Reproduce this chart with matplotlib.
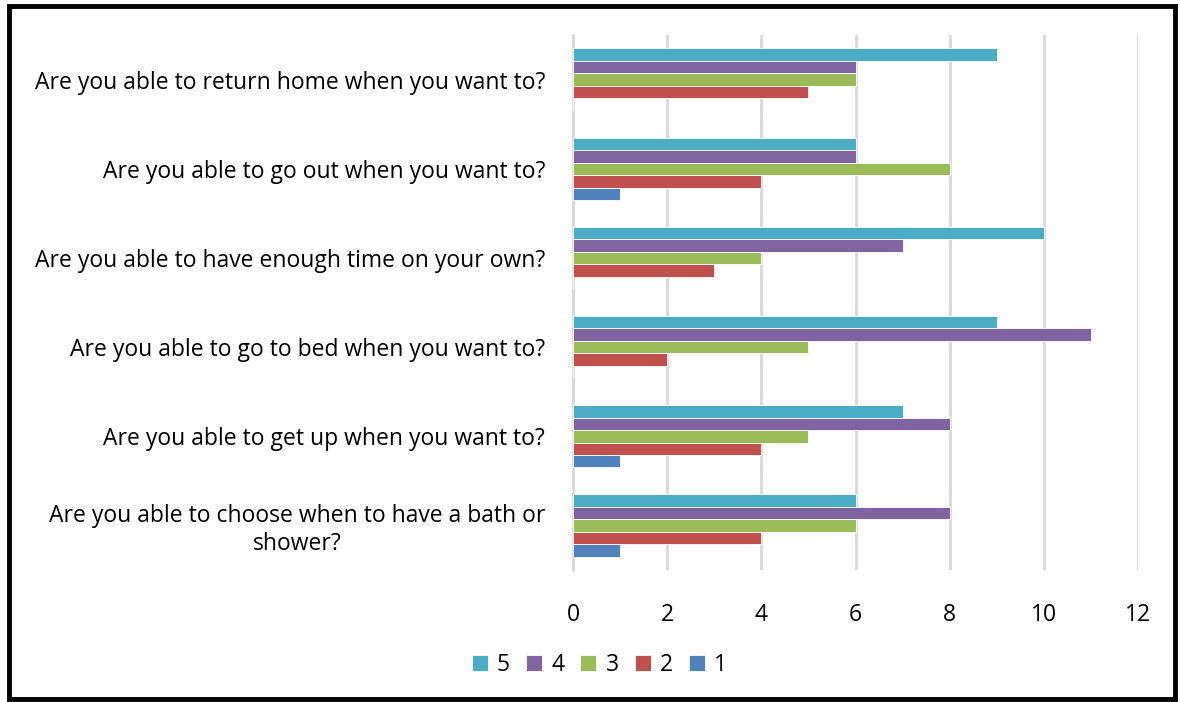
import numpy as np
import matplotlib.pyplot as plt
from matplotlib.patches import Rectangle

questions = [
    "Are you able to choose when to have a bath or\nshower?",
    "Are you able to get up when you want to?",
    "Are you able to go to bed when you want to?",
    "Are you able to have enough time on your own?",
    "Are you able to go out when you want to?",
    "Are you able to return home when you want to?",
]
series_names = ["5", "4", "3", "2", "1"]
vals_5 = [6, 7, 9, 10, 6, 9]
vals_4 = [8, 8, 11, 7, 6, 6]
vals_3 = [6, 5, 5, 4, 8, 6]
vals_2 = [4, 4, 2, 3, 4, 5]
vals_1 = [1, 1, 0, 0, 1, 0]
colors = ["#4BACC6", "#8064A2", "#9BBB59", "#C0504D", "#4F81BD"]

plt.rcParams['font.family'] = ['Open Sans', 'DejaVu Sans']

fig = plt.figure(figsize=(11.8, 7.02), dpi=100)
ax = fig.add_axes([0.4856, 0.188, 0.4788, 0.762])

y = np.arange(len(questions))
h = 0.14
all_vals = [vals_5, vals_4, vals_3, vals_2, vals_1]
for i, (name, vals, c) in enumerate(zip(series_names, all_vals, colors)):
    offset = (2 - i) * h
    ax.barh(y + offset, vals, height=h, color=c, edgecolor='white',
            linewidth=0.6, label=name, zorder=3)

ax.set_xlim(0, 12)
ax.set_ylim(-0.5, 5.5)
ax.set_xticks(range(0, 13, 2))
ax.set_yticks(y)
ax.set_yticklabels(questions, fontsize=16.5, ha='right', multialignment='center')
ax.tick_params(axis='y', length=0, pad=20)
ax.tick_params(axis='x', length=0, pad=24, labelsize=16.5)
ax.grid(axis='x', color='#D9D9D9', linewidth=2, zorder=0)
for s in ['top', 'right', 'bottom']:
    ax.spines[s].set_visible(False)
ax.spines['left'].set_color('#D9D9D9')
ax.spines['left'].set_linewidth(2)

handles, labels = ax.get_legend_handles_labels()
fig.legend(handles, labels, loc='center', bbox_to_anchor=(0.508, 0.053),
           ncol=5, frameon=False, fontsize=16.5, handlelength=0.7,
           handleheight=0.7, handletextpad=0.4, columnspacing=0.7)

fig.patches.append(Rectangle((0.008, 0.004), 0.988, 0.988, transform=fig.transFigure,
                             fill=False, edgecolor='black', linewidth=3.5))

fig.savefig("out.png", dpi=100)
